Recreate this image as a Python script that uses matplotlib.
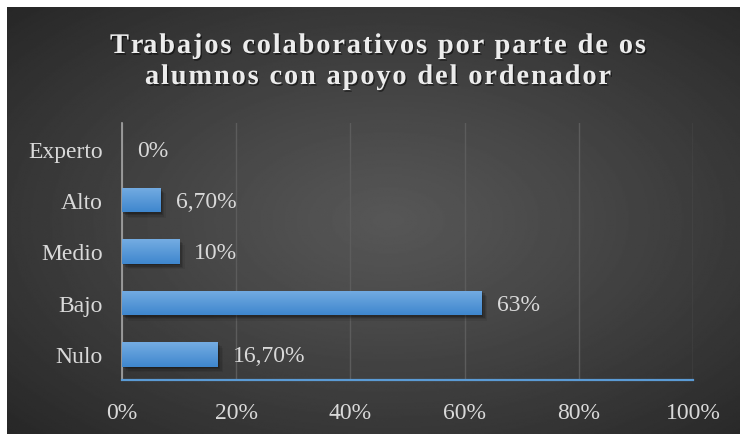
import numpy as np
import matplotlib.pyplot as plt
from matplotlib import patheffects as pe
from matplotlib.colors import LinearSegmentedColormap
from matplotlib.font_manager import FontProperties

plt.rcParams["font.family"] = "Liberation Serif"

# datos
categorias = ["Nulo", "Bajo", "Medio", "Alto", "Experto"]
valores = [16.7, 63, 10, 6.7, 0]
etiquetas = ["16,70%", "63%", "10%", "6,70%", "0%"]
ticks_x = [0, 20, 40, 60, 80, 100]
ticks_x_labels = ["0%", "20%", "40%", "60%", "80%", "100%"]
titulo = ["Trabajos colaborativos por parte de os",
          "alumnos con apoyo del ordenador"]

W, H = 740, 435
fig = plt.figure(figsize=(W / 100, H / 100), dpi=100)
fig.patch.set_facecolor("white")

# =========================
# Fondo con degradado radial
# =========================
bg = fig.add_axes([7 / W, 0, 1 - 7 / W, 1 - 8 / H])
yy, xx = np.mgrid[0:1:300j, 0:1:500j]
r = np.sqrt(((xx - 0.52) / 0.52) ** 2 + ((yy - 0.5) / 0.52) ** 2) / np.sqrt(2)
r = np.clip(r, 0, 1)
centro, borde = 0.34, 0.15
g = centro - (centro - borde) * r ** 1.1
bg.imshow(g, cmap="gray", vmin=0, vmax=1, aspect="auto", extent=[0, 1, 0, 1])
bg.axis("off")

# =========================
# Ejes principales
# =========================
ax = fig.add_axes([122 / W, 1 - 381 / H, (693 - 122) / W, (381 - 124) / H])
ax.patch.set_alpha(0)

y = np.arange(len(categorias))
alto_barra = 0.48

sombra = [
    pe.SimplePatchShadow(offset=(4, -4), shadow_rgbFace="black", alpha=0.07),
    pe.SimplePatchShadow(offset=(3, -3), shadow_rgbFace="black", alpha=0.1),
    pe.SimplePatchShadow(offset=(2, -2), shadow_rgbFace="black", alpha=0.14),
    pe.SimplePatchShadow(offset=(1, -1), shadow_rgbFace="black", alpha=0.18),
    pe.Normal(),
]
barras = ax.barh(y, valores, height=alto_barra, color="#4a8fd6", zorder=3,
                 path_effects=sombra)

# degradado vertical dentro de cada barra
cmap_barra = LinearSegmentedColormap.from_list("barra", ["#3f87ce", "#74ace2"])
grad = np.linspace(1, 0, 50).reshape(-1, 1)
for b in barras:
    if b.get_width() <= 0:
        continue
    x0, y0 = b.get_x(), b.get_y()
    im = ax.imshow(grad, cmap=cmap_barra, aspect="auto", zorder=4,
                   extent=[x0, x0 + b.get_width(), y0, y0 + b.get_height()],
                   origin="upper")
    im.set_clip_path(b)

ax.set_xlim(0, 100)
ax.set_ylim(-0.5, len(categorias) - 0.5)

# etiquetas de datos
for i, (v, t) in enumerate(zip(valores, etiquetas)):
    ax.annotate(t, (v, i), xytext=(11, -1), textcoords="offset points",
                va="center", ha="left", fontsize=17, color="#d9d9d9", zorder=5)

ax.set_yticks(y)
ax.set_yticklabels(categorias)
ax.set_xticks(ticks_x)
ax.set_xticklabels(ticks_x_labels)
ax.tick_params(axis="both", length=0, labelcolor="#d9d9d9", labelsize=17)
ax.tick_params(axis="y", pad=14)
ax.tick_params(axis="x", pad=15.5)

ax.grid(axis="x", color="#5c5c5c", linewidth=1, zorder=1)
ax.set_axisbelow(True)
for s in ["top", "right"]:
    ax.spines[s].set_visible(False)
ax.spines["left"].set_color("#a6a6a6")
ax.spines["left"].set_linewidth(1.2)
ax.spines["bottom"].set_color("#5b9bd5")
ax.spines["bottom"].set_linewidth(1.6)
ax.spines["bottom"].set_zorder(6)

# =========================
# Titulo con espaciado entre letras
# =========================
renderer = fig.canvas.get_renderer()
fp = FontProperties(family="Liberation Serif", weight="bold", size=20.5)


def ancho(s):
    w, _, _ = renderer.get_text_width_height_descent(s, fp, ismath=False)
    return w


def posiciones(linea, sep):
    ref = ancho("|")
    xs = [ancho(linea[:i] + "|") - ref + i * sep for i in range(len(linea))]
    total = xs[-1] + ancho(linea[-1])
    return xs, total


# separacion elegida para que la primera linea mida ~536 px
objetivo = 536
xs0, t0 = posiciones(titulo[0], 0)
sep = (objetivo - t0) / (len(titulo[0]) - 1)

centro_x = 378
for linea, base in zip(titulo, [54, 85]):
    xs, total = posiciones(linea, sep)
    x_ini = centro_x - total / 2
    for ch, xc in zip(linea, xs):
        if ch == " ":
            continue
        fig.text((x_ini + xc) / W, 1 - base / H, ch, fontproperties=fp,
                 color="#ececec", ha="left", va="baseline",
                 path_effects=[pe.withSimplePatchShadow(offset=(1, -1.2), shadow_rgbFace="black", alpha=0.5)])

fig.savefig("out.png", dpi=100, facecolor=fig.get_facecolor())
